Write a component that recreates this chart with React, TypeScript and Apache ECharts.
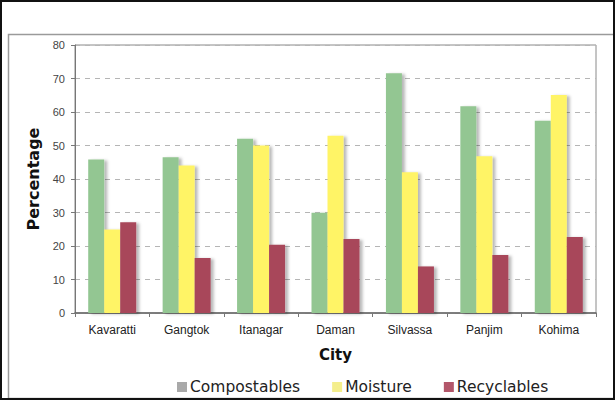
import React, { useEffect, useRef } from "react";
import * as echarts from "echarts";

// Waste composition by city (percent)
const cities = ["Kavaratti", "Gangtok", "Itanagar", "Daman", "Silvassa", "Panjim", "Kohima"];
const compostables = [45.8, 46.5, 52, 29.9, 71.6, 61.7, 57.4];
const moisture = [24.9, 44, 50, 52.9, 42, 46.8, 65.1];
const recyclables = [27.1, 16.4, 20.4, 22.1, 13.9, 17.3, 22.7];
const seriesNames = ["Compostables", "Moisture", "Recyclables"];

const barColors = ["#93c692", "#fff466", "#a8465a"];
const legendSwatches = ["#a9a9a9", "#f4ee8c", "#b3576a"];

export default function App() {
  const ref = useRef<HTMLDivElement>(null);

  useEffect(() => {
    document.body.style.margin = "0";
    const chart = echarts.init(ref.current!, null, { renderer: "svg" });
    const shadow = {
      shadowColor: "rgba(0,0,0,0.28)",
      shadowBlur: 3,
      shadowOffsetX: 3,
      shadowOffsetY: 1,
    };
    const values = [compostables, moisture, recyclables];
    chart.setOption({
      animation: false,
      backgroundColor: "#ffffff",
      graphic: [
        {
          type: "rect",
          shape: { x: 1, y: 1, width: 613, height: 398 },
          style: { fill: "none", stroke: "#111", lineWidth: 2 },
          z: 10,
        },
        {
          type: "rect",
          shape: { x: 8.5, y: 34.5, width: 640, height: 364 },
          style: { fill: "none", stroke: "#9a9a9a", lineWidth: 1.5 },
          z: 9,
        },
      ],
      grid: {
        left: 75,
        top: 45,
        right: 19,
        bottom: 87,
        show: true,
        borderColor: "#8a8a8a",
        borderWidth: 1,
      },
      legend: {
        left: 172,
        top: 374,
        itemWidth: 10,
        itemHeight: 10,
        itemGap: 32,
        icon: "rect",
        textStyle: { fontFamily: "DejaVu Sans", fontSize: 15.5, color: "#222", padding: [0, 0, 0, -2] },
        data: seriesNames.map((n, i) => ({ name: n, itemStyle: { color: legendSwatches[i] } })),
      },
      xAxis: {
        type: "category",
        data: cities,
        name: "City",
        nameLocation: "middle",
        nameGap: 34,
        nameTextStyle: { fontFamily: "DejaVu Sans", fontWeight: "bold", fontSize: 15, color: "#111" },
        axisLine: { lineStyle: { color: "#666", width: 1.5 } },
        axisTick: { show: true, length: 4, lineStyle: { color: "#777" } },
        axisLabel: { fontFamily: "Liberation Sans", fontSize: 12, color: "#222", margin: 11 },
      },
      yAxis: {
        type: "value",
        min: 0,
        max: 80,
        interval: 10,
        name: "Percentage",
        nameLocation: "middle",
        nameGap: 31,
        nameTextStyle: { fontFamily: "DejaVu Sans", fontWeight: "bold", fontSize: 16, color: "#111" },
        axisLine: { show: true, lineStyle: { color: "#777" } },
        axisTick: { show: true, length: 4, lineStyle: { color: "#777" } },
        axisLabel: { fontFamily: "Liberation Sans", fontSize: 11, color: "#444", margin: 10 },
        splitLine: { lineStyle: { color: "#b5b5b5", type: [5, 5] } },
      },
      series: seriesNames.map((n, i) => ({
        name: n,
        type: "bar",
        data: values[i],
        barWidth: 16,
        barGap: "0%",
        itemStyle: { color: barColors[i], ...shadow },
      })),
    });
    return () => chart.dispose();
  }, []);

  return <div ref={ref} style={{ width: 615, height: 400 }} />;
}
